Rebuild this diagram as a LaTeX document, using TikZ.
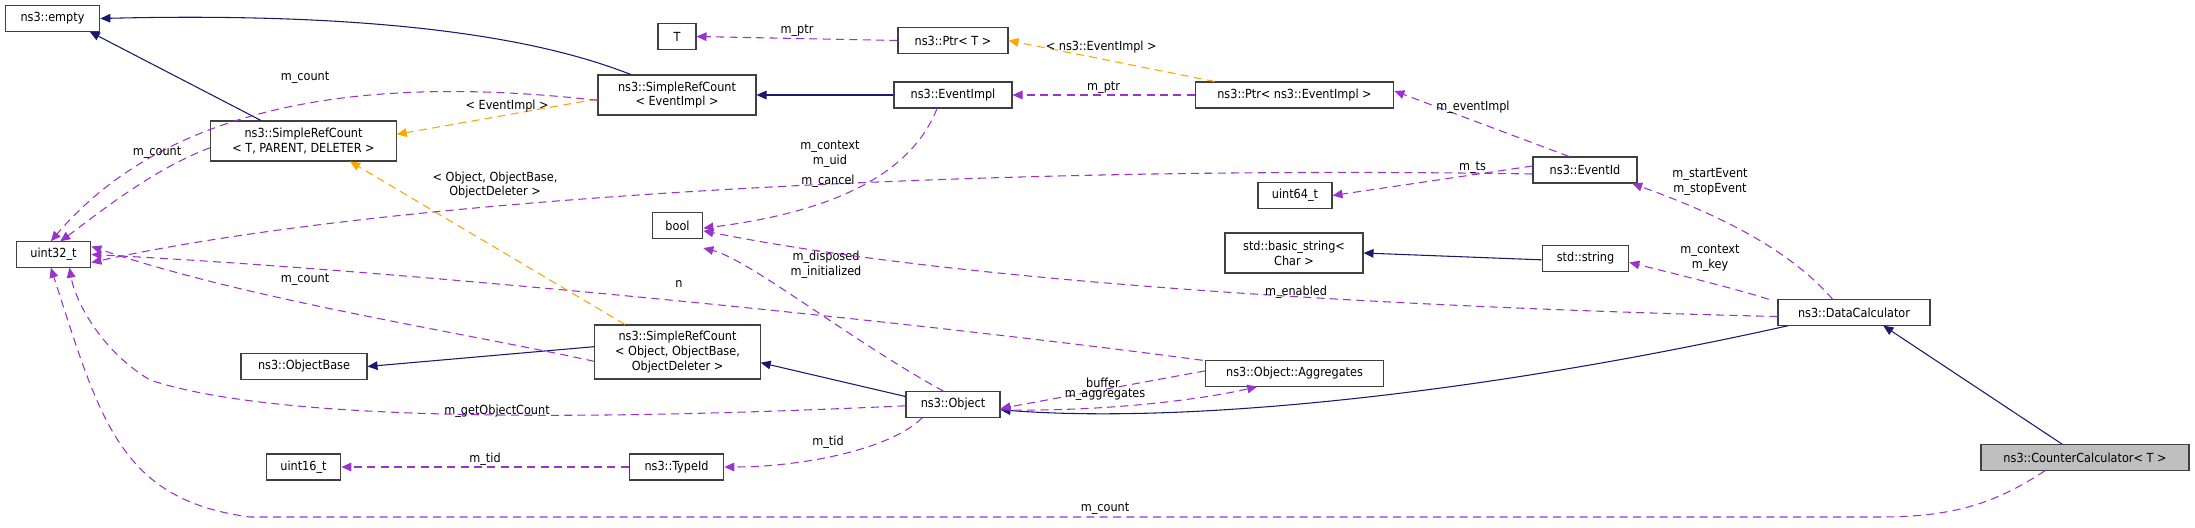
\documentclass[tikz,border=0pt]{standalone}
\usepackage{fontspec}
\setmainfont{DejaVu Sans Condensed}
\usetikzlibrary{arrows.meta}
\definecolor{inh}{HTML}{191970}
\definecolor{mem}{HTML}{9A32CD}
\definecolor{tpl}{HTML}{FFA500}
\begin{document}
\begin{tikzpicture}[x=0.75pt,y=-0.75pt,
  every node/.style={font=\fontsize{9.4pt}{11pt}\selectfont},
  box/.style={draw=black!75,line width=0.8pt,inner sep=1pt,align=center,fill=white},
  lbl/.style={align=center,inner sep=0pt},
  tip/.style={-{Triangle[length=7.5pt,width=6.5pt]}},
  inh/.style={tip,draw=inh,line width=0.8pt},
  mem/.style={tip,draw=mem,color=mem,dashed,dash pattern=on 6pt off 4pt,line width=0.8pt},
  tpl/.style={tip,draw=tpl,color=tpl,dashed,dash pattern=on 6pt off 4pt,line width=0.8pt}]
\useasboundingbox (0,0) rectangle (2195,528);
% nodes
\node[box,minimum width=71pt,minimum height=19pt] (empty) at (52.5,18.5) {ns3::empty};
\node[box,minimum width=28.5pt,minimum height=19pt] (T) at (677,36.5) {T};
\node[box,minimum width=118.5pt,minimum height=30pt] (SRCev) at (677,95) {ns3::SimpleRefCount\\\textless{} EventImpl \textgreater};
\node[box,minimum width=139pt,minimum height=30pt] (SRCt) at (303.5,141) {ns3::SimpleRefCount\\\textless{} T, PARENT, DELETER \textgreater};
\node[box,minimum width=38pt,minimum height=19pt] (bool) at (677.5,225.5) {bool};
\node[box,minimum width=56pt,minimum height=19pt] (u32) at (53.5,254.5) {uint32\_t};
\node[box,minimum width=94.5pt,minimum height=19pt] (OB) at (304,366.5) {ns3::ObjectBase};
\node[box,minimum width=124pt,minimum height=40.5pt] (SRCobj) at (677.5,352) {ns3::SimpleRefCount\\\textless{} Object, ObjectBase,\\ObjectDeleter \textgreater};
\node[box,minimum width=56pt,minimum height=19.5pt] (u16) at (303.5,467) {uint16\_t};
\node[box,minimum width=71pt,minimum height=19.5pt] (TypeId) at (676.5,467) {ns3::TypeId};
\node[box,minimum width=82.5pt,minimum height=19pt] (PtrT) at (953,40.5) {ns3::Ptr\textless{} T \textgreater};
\node[box,minimum width=88.5pt,minimum height=19.5pt] (EvImpl) at (953,95) {ns3::EventImpl};
\node[box,minimum width=149pt,minimum height=19.5pt] (PtrEv) at (1294.5,95) {ns3::Ptr\textless{} ns3::EventImpl \textgreater};
\node[box,minimum width=55.5pt,minimum height=19pt] (u64) at (1295,195.5) {uint64\_t};
\node[box,minimum width=103.5pt,minimum height=30pt] (basic) at (1294,253) {std::basic\_string\textless\\Char \textgreater};
\node[box,minimum width=133pt,minimum height=19pt] (Agg) at (1294.5,373.5) {ns3::Object::Aggregates};
\node[box,minimum width=70.5pt,minimum height=19pt] (Obj) at (953,404.5) {ns3::Object};
\node[box,minimum width=78pt,minimum height=19.5pt] (EvId) at (1585,170) {ns3::EventId};
\node[box,minimum width=65pt,minimum height=19pt] (str) at (1585.5,258.5) {std::string};
\node[box,minimum width=114pt,minimum height=19pt] (DC) at (1854,312.5) {ns3::DataCalculator};
\node[box,fill=black!25,minimum width=156pt,minimum height=19pt] (CC) at (2085,457.5) {ns3::CounterCalculator\textless{} T \textgreater};
% inheritance
\draw[inh] ([xshift=25pt]SRCev.north west) .. controls (580,55) and (450,10) .. (empty.east);
\draw[inh] ([xshift=38pt]SRCt.north west) -- ([xshift=-8pt]empty.south east);
\draw[inh] (EvImpl.west) -- (SRCev.east);
\draw[inh] ([yshift=4pt]SRCobj.west) -- (OB.east);
\draw[inh] ([yshift=6pt]Obj.west) -- ([yshift=-8pt]SRCobj.east);
\draw[inh] ([yshift=-1pt]str.west) -- (basic.east);
\draw[inh] ([xshift=8pt]DC.south west) .. controls (1500,390) and (1200,425) .. ([yshift=-4pt]Obj.east);
\draw[inh] ([xshift=-17pt]CC.north) -- ([xshift=22pt]DC.south);
% templates
\draw[tpl] ([yshift=-3pt]SRCev.west) -- ([yshift=5pt]SRCt.east) node[lbl,pos=0.45,above=2pt,text=black] {\textless{} EventImpl \textgreater};
\draw[tpl] ([xshift=23pt]SRCobj.north west) -- ([xshift=-35pt]SRCt.south east);
\node[lbl] (l1) at (495,185) {\textless{} Object, ObjectBase,\\ObjectDeleter \textgreater};
\draw[tpl] ([xshift=15pt]PtrEv.north west) -- (PtrT.east) node[lbl,pos=0.55,above=4pt,text=black] {\textless{} ns3::EventImpl \textgreater};
% members
\draw[mem] (PtrT.west) -- (T.east) node[lbl,midway,above=1pt,text=black] {m\_ptr};
\draw[mem] (PtrEv.west) -- (EvImpl.east) node[lbl,midway,above=1pt,text=black] {m\_ptr};
\draw[mem] ([xshift=-12pt]EvId.north) -- ([yshift=3pt]PtrEv.east) node[lbl,pos=0.55,above=5pt,text=black] {m\_eventImpl};
\draw[mem] ([yshift=-4pt]SRCev.west) .. controls (400,78) and (180,90) .. ([xshift=-2pt]u32.north);
\node[lbl] at (305,78) {m\_count};
\draw[mem] ([yshift=-5pt]SRCt.west) .. controls (150,170) and (90,220) .. ([xshift=5pt]u32.north);
\node[lbl] at (157,153) {m\_count};
\draw[mem] ([yshift=-3pt]EvId.west) .. controls (1000,165) and (400,195) .. ([yshift=-6pt]u32.east);
\node[lbl] at (830,154) {m\_context\\m\_uid};
\draw[mem] ([yshift=3pt]EvId.west) -- (u64.east) node[lbl,pos=0.3,above=1pt,text=black] {m\_ts};
\draw[mem] ([xshift=-12pt]EvImpl.south) .. controls (915,165) and (850,210) .. ([yshift=-2pt]bool.east);
\node[lbl] at (828,181) {m\_cancel};
\draw[mem] ([xshift=-7pt]Obj.north) .. controls (850,340) and (750,260) .. ([yshift=-7pt]bool.south east);
\node[lbl] at (826,265) {m\_disposed\\m\_initialized};
\draw[mem] ([yshift=-3pt]DC.west) .. controls (1500,310) and (1000,290) .. ([yshift=-4pt]bool.east);
\node[lbl] at (1296,292) {m\_enabled};
\draw[mem] ([xshift=-2pt]Agg.north west) .. controls (900,320) and (400,270) .. (u32.east);
\node[lbl] at (679,284) {n};
\draw[mem] ([yshift=-7pt]SRCobj.west) .. controls (450,330) and (250,300) .. ([yshift=6pt]u32.east);
\node[lbl] at (305,280) {m\_count};
\draw[mem] ([yshift=-1pt]Obj.west) .. controls (700,415) and (300,430) .. (150,380) .. controls (100,350) and (75,300) .. ([xshift=12pt]u32.south);
\node[lbl] at (497,411) {m\_getObjectCount};
\draw[mem] ([xshift=-30pt]CC.south) .. controls (2000,500) and (1960,517) .. (1880,517) -- (250,517) .. controls (120,500) and (100,420) .. ([xshift=-2pt]u32.south);
\node[lbl] at (1105,509) {m\_count};
\draw[mem] (TypeId.west) -- (u16.east) node[lbl,midway,above=1pt,text=black] {m\_tid};
\draw[mem] ([xshift=-23pt]Obj.south) .. controls (890,450) and (800,467) .. (TypeId.east);
\node[lbl] at (828,442) {m\_tid};
\draw[mem] ([yshift=2pt]Agg.west) -- ([yshift=-3pt]Obj.east) node[lbl,midway,above=1pt,text=black] {buffer};
\draw[mem] ([yshift=-4pt]Obj.east) .. controls (1100,412) and (1200,400) .. ([xshift=-28pt]Agg.south);
\node[lbl] at (1105,395) {m\_aggregates};
\draw[mem] ([xshift=-16pt]DC.north) .. controls (1790,250) and (1720,215) .. ([xshift=-4pt]EvId.south east);
\node[lbl] at (1710,182) {m\_startEvent\\m\_stopEvent};
\draw[mem] ([xshift=-64pt]DC.north) .. controls (1740,290) and (1680,275) .. ([yshift=-3pt]str.east);
\node[lbl] at (1710,258) {m\_context\\m\_key};
\end{tikzpicture}
\end{document}
